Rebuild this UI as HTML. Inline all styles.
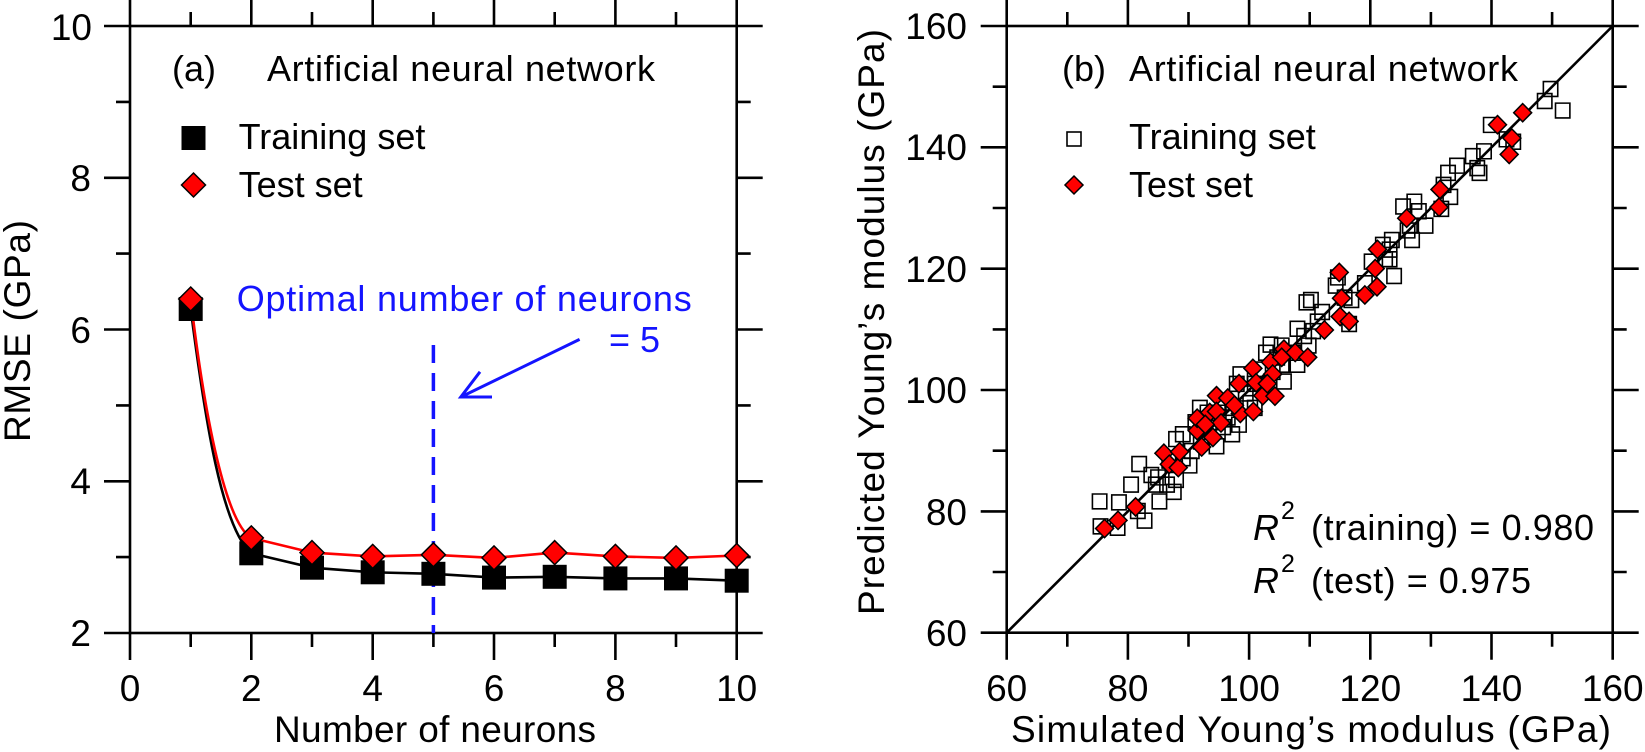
<!DOCTYPE html>
<html><head><meta charset="utf-8"><style>
html,body{margin:0;padding:0;background:#fff;}
svg{display:block;}
text{font-family:"Liberation Sans",Arial,sans-serif;fill:#000;}
</style></head><body>
<svg width="1645" height="752" viewBox="0 0 1645 752" xmlns="http://www.w3.org/2000/svg">
<defs>
<rect id="s" x="-16" y="-15" width="32" height="31" fill="none" stroke="#000" stroke-width="1.6" vector-effect="non-scaling-stroke"/>
<polygon id="d" points="0,-19 20,0 0,19 -20,0" fill="#f00" stroke="#000" stroke-width="1.5" vector-effect="non-scaling-stroke"/>
<rect id="S" x="-12" y="-12" width="24" height="24" fill="#000"/>
<polygon id="D" points="0,-12 12,0 0,12 -12,0" fill="#f00" stroke="#000" stroke-width="1.5"/>
</defs>

<!-- LEFT PANEL -->
<g stroke="#000" stroke-width="2.6" fill="none">
<rect x="130" y="26" width="606.7" height="607"/>
<path d="M130,633v27M251.3,633v27M372.7,633v27M494,633v27M615.4,633v27M736.7,633v27
M190.7,633v14M312,633v14M433.4,633v14M554.7,633v14M676,633v14
M130,26v-27M251.3,26v-27M372.7,26v-27M494,26v-27M615.4,26v-27M736.7,26v-27
M190.7,26v-14M312,26v-14M433.4,26v-14M554.7,26v-14M676,26v-14"/>
<path d="M130,633h-26M130,481.3h-26M130,329.5h-26M130,177.8h-26M130,26h-26
M130,557.1h-14M130,405.4h-14M130,253.6h-14M130,101.9h-14
M736.7,633h26M736.7,481.3h26M736.7,329.5h26M736.7,177.8h26M736.7,26h26
M736.7,557.1h14M736.7,405.4h14M736.7,253.6h14M736.7,101.9h14"/>
</g>
<g font-size="37" text-anchor="end">
<text x="91" y="646">2</text><text x="91" y="494">4</text><text x="91" y="343">6</text><text x="91" y="191">8</text><text x="92" y="40">10</text>
</g>
<g font-size="37" text-anchor="middle">
<text x="130" y="701">0</text><text x="251.3" y="701">2</text><text x="372.7" y="701">4</text><text x="494" y="701">6</text><text x="615.4" y="701">8</text><text x="736.7" y="701">10</text>
<text x="435" y="742" textLength="322">Number of neurons</text>
<text transform="translate(30,331) rotate(-90)" textLength="222">RMSE (GPa)</text>
</g>
<g font-size="36">
<text x="172" y="81">(a)</text>
<text x="267" y="81" textLength="388">Artificial neural network</text>
<text x="238.6" y="149">Training set</text>
<text x="238.6" y="197">Test set</text>
</g>
<use href="#S" x="193.5" y="138"/>
<use href="#D" x="193.5" y="185"/>

<line x1="433.4" y1="345" x2="433.4" y2="633" stroke="#1414ff" stroke-width="3.5" stroke-dasharray="18 10"/>
<g stroke="#1414ff" stroke-width="3" fill="none">
<path d="M579.6,339.4L460.8,397M480,371.8L460.8,397L492,397"/>
</g>
<text x="236.7" y="311" font-size="36" style="fill:#1414ff" textLength="455">Optimal number of neurons</text>
<text x="609" y="352" font-size="36" style="fill:#1414ff">= 5</text>

<path d="M190.7,309 C205,420 222,528 251.3,553.3 L312,567.7 L372.7,572.3 L433.4,573.8 L494,577.6 L554.7,576.8 L615.4,578.4 L676,578.4 L736.7,580.7" fill="none" stroke="#000" stroke-width="2.6"/>
<path d="M190.7,299 C205,420 226,523 251.3,537.9 L312,552.6 L372.7,556.4 L433.4,554.8 L494,557.9 L554.7,552.6 L615.4,556.4 L676,557.9 L736.7,555.5" fill="none" stroke="#f00" stroke-width="2.6"/>
<use href="#S" x="190.7" y="309"/><use href="#S" x="251.3" y="553.3"/><use href="#S" x="312" y="567.7"/><use href="#S" x="372.7" y="572.3"/><use href="#S" x="433.4" y="573.8"/><use href="#S" x="494" y="577.6"/><use href="#S" x="554.7" y="576.8"/><use href="#S" x="615.4" y="578.4"/><use href="#S" x="676" y="578.4"/><use href="#S" x="736.7" y="580.7"/>
<use href="#D" x="190.7" y="299"/><use href="#D" x="251.3" y="537.9"/><use href="#D" x="312" y="552.6"/><use href="#D" x="372.7" y="556.4"/><use href="#D" x="433.4" y="554.8"/><use href="#D" x="494" y="557.9"/><use href="#D" x="554.7" y="552.6"/><use href="#D" x="615.4" y="556.4"/><use href="#D" x="676" y="557.9"/><use href="#D" x="736.7" y="555.5"/>

<!-- RIGHT PANEL -->
<g stroke="#000" stroke-width="2.6" fill="none">
<rect x="1006.7" y="26" width="606" height="606.7"/>
<path d="M1006.7,632.7v27M1127.9,632.7v27M1249.1,632.7v27M1370.3,632.7v27M1491.5,632.7v27M1612.7,632.7v27
M1067.3,632.7v14M1188.5,632.7v14M1309.7,632.7v14M1430.9,632.7v14M1552.1,632.7v14
M1006.7,26v-27M1127.9,26v-27M1249.1,26v-27M1370.3,26v-27M1491.5,26v-27M1612.7,26v-27
M1067.3,26v-14M1188.5,26v-14M1309.7,26v-14M1430.9,26v-14M1552.1,26v-14"/>
<path d="M1006.7,632.7h-26M1006.7,511.4h-26M1006.7,390h-26M1006.7,268.7h-26M1006.7,147.3h-26M1006.7,26h-26
M1006.7,572h-14M1006.7,450.7h-14M1006.7,329.4h-14M1006.7,208h-14M1006.7,86.7h-14
M1612.7,632.7h26M1612.7,511.4h26M1612.7,390h26M1612.7,268.7h26M1612.7,147.3h26M1612.7,26h26
M1612.7,572h14M1612.7,450.7h14M1612.7,329.4h14M1612.7,208h14M1612.7,86.7h14"/>
<line x1="1006.7" y1="632.7" x2="1612.7" y2="26"/>
</g>
<g font-size="37" text-anchor="end">
<text x="967" y="646">60</text><text x="967" y="525">80</text><text x="967" y="403">100</text><text x="967" y="282">120</text><text x="967" y="160">140</text><text x="967" y="39">160</text>
</g>
<g font-size="37" text-anchor="middle">
<text x="1006.7" y="701">60</text><text x="1127.9" y="701">80</text><text x="1249.1" y="701">100</text><text x="1370.3" y="701">120</text><text x="1491.5" y="701">140</text><text x="1612.7" y="701">160</text>
<text x="1311" y="742" textLength="600">Simulated Young’s modulus (GPa)</text>
<text transform="translate(884,322) rotate(-90)" textLength="586">Predicted Young’s modulus (GPa)</text>
</g>
<g font-size="36">
<text x="1062" y="81">(b)</text>
<text x="1129" y="81" textLength="389">Artificial neural network</text>
<text x="1129" y="149">Training set</text>
<text x="1129" y="197">Test set</text>
<text x="1253" y="540" font-style="italic">R</text><text x="1281" y="519" font-size="25">2</text><text x="1311" y="540" textLength="283">(training) = 0.980</text>
<text x="1253" y="593" font-style="italic">R</text><text x="1281" y="572" font-size="25">2</text><text x="1311" y="593" textLength="220">(test) = 0.975</text>
</g>
<rect x="1067" y="132" width="14" height="14" fill="none" stroke="#000" stroke-width="1.6"/>
<polygon points="1074,176 1083,185 1074,194 1065,185" fill="#f00" stroke="#000" stroke-width="1.5"/>

<g transform="translate(940,0) scale(0.4496,0.4796)">
<use href="#s" x="355" y="1045"/><use href="#s" x="357" y="1097"/><use href="#s" x="395" y="1100"/><use href="#s" x="398" y="1047"/><use href="#s" x="425" y="1010"/><use href="#s" x="443" y="967"/><use href="#s" x="455" y="1085"/><use href="#s" x="440" y="1065"/><use href="#s" x="485" y="995"/><use href="#s" x="488" y="1045"/><use href="#s" x="480" y="1010"/><use href="#s" x="520" y="1025"/><use href="#s" x="525" y="1000"/><use href="#s" x="510" y="960"/><use href="#s" x="525" y="915"/><use href="#s" x="540" y="905"/><use href="#s" x="555" y="970"/><use href="#s" x="560" y="940"/><use href="#s" x="578" y="850"/><use href="#s" x="568" y="880"/><use href="#s" x="590" y="900"/><use href="#s" x="615" y="930"/><use href="#s" x="610" y="880"/><use href="#s" x="640" y="870"/><use href="#s" x="650" y="850"/><use href="#s" x="665" y="885"/><use href="#s" x="668" y="780"/><use href="#s" x="660" y="800"/><use href="#s" x="680" y="820"/><use href="#s" x="700" y="800"/><use href="#s" x="725" y="735"/><use href="#s" x="735" y="718"/><use href="#s" x="740" y="775"/><use href="#s" x="765" y="795"/><use href="#s" x="760" y="760"/><use href="#s" x="785" y="735"/><use href="#s" x="795" y="760"/><use href="#s" x="795" y="685"/><use href="#s" x="810" y="700"/><use href="#s" x="820" y="720"/><use href="#s" x="815" y="630"/><use href="#s" x="825" y="625"/><use href="#s" x="840" y="670"/><use href="#s" x="850" y="650"/><use href="#s" x="880" y="595"/><use href="#s" x="915" y="625"/><use href="#s" x="910" y="675"/><use href="#s" x="945" y="590"/><use href="#s" x="960" y="545"/><use href="#s" x="990" y="540"/><use href="#s" x="1010" y="575"/><use href="#s" x="1000" y="520"/><use href="#s" x="1005" y="500"/><use href="#s" x="1030" y="430"/><use href="#s" x="1050" y="500"/><use href="#s" x="1055" y="420"/><use href="#s" x="1065" y="440"/><use href="#s" x="1080" y="470"/><use href="#s" x="1045" y="470"/><use href="#s" x="1115" y="435"/><use href="#s" x="1120" y="385"/><use href="#s" x="1130" y="360"/><use href="#s" x="1135" y="410"/><use href="#s" x="1150" y="345"/><use href="#s" x="1185" y="325"/><use href="#s" x="1200" y="360"/><use href="#s" x="1210" y="315"/><use href="#s" x="1225" y="260"/><use href="#s" x="1260" y="290"/><use href="#s" x="1275" y="295"/><use href="#s" x="1345" y="210"/><use href="#s" x="1358" y="185"/><use href="#s" x="1385" y="230"/><use href="#s" x="1195" y="350"/><use href="#s" x="985" y="510"/><use href="#s" x="1000" y="540"/><use href="#s" x="1040" y="480"/><use href="#s" x="700" y="850"/><use href="#s" x="620" y="860"/><use href="#s" x="720" y="770"/><use href="#s" x="630" y="890"/><use href="#s" x="595" y="860"/><use href="#s" x="540" y="955"/><use href="#s" x="505" y="1010"/><use href="#s" x="470" y="990"/><use href="#s" x="900" y="620"/><use href="#s" x="760" y="720"/><use href="#s" x="830" y="690"/><use href="#s" x="885" y="578"/><use href="#s" x="580" y="920"/><use href="#s" x="650" y="905"/><use href="#s" x="690" y="840"/><use href="#s" x="750" y="745"/>

<use href="#d" x="366" y="1102"/><use href="#d" x="396" y="1085"/><use href="#d" x="435" y="1057"/><use href="#d" x="498" y="945"/><use href="#d" x="510" y="968"/><use href="#d" x="530" y="975"/><use href="#d" x="533" y="942"/><use href="#d" x="572" y="898"/><use href="#d" x="572" y="872"/><use href="#d" x="582" y="932"/><use href="#d" x="600" y="860"/><use href="#d" x="607" y="912"/><use href="#d" x="615" y="825"/><use href="#d" x="615" y="858"/><use href="#d" x="625" y="882"/><use href="#d" x="640" y="830"/><use href="#d" x="665" y="800"/><use href="#d" x="668" y="862"/><use href="#d" x="696" y="768"/><use href="#d" x="697" y="858"/><use href="#d" x="703" y="798"/><use href="#d" x="718" y="825"/><use href="#d" x="735" y="755"/><use href="#d" x="740" y="780"/><use href="#d" x="745" y="826"/><use href="#d" x="765" y="728"/><use href="#d" x="790" y="735"/><use href="#d" x="818" y="745"/><use href="#d" x="855" y="688"/><use href="#d" x="890" y="660"/><use href="#d" x="893" y="622"/><use href="#d" x="910" y="670"/><use href="#d" x="945" y="615"/><use href="#d" x="968" y="560"/><use href="#d" x="972" y="598"/><use href="#d" x="973" y="520"/><use href="#d" x="888" y="568"/><use href="#d" x="1038" y="455"/><use href="#d" x="1112" y="395"/><use href="#d" x="1110" y="432"/><use href="#d" x="1240" y="260"/><use href="#d" x="1272" y="288"/><use href="#d" x="1266" y="322"/><use href="#d" x="1296" y="235"/><use href="#d" x="655" y="845"/><use href="#d" x="590" y="885"/><use href="#d" x="728" y="800"/><use href="#d" x="760" y="745"/>
</g>
</svg>
</body></html>
